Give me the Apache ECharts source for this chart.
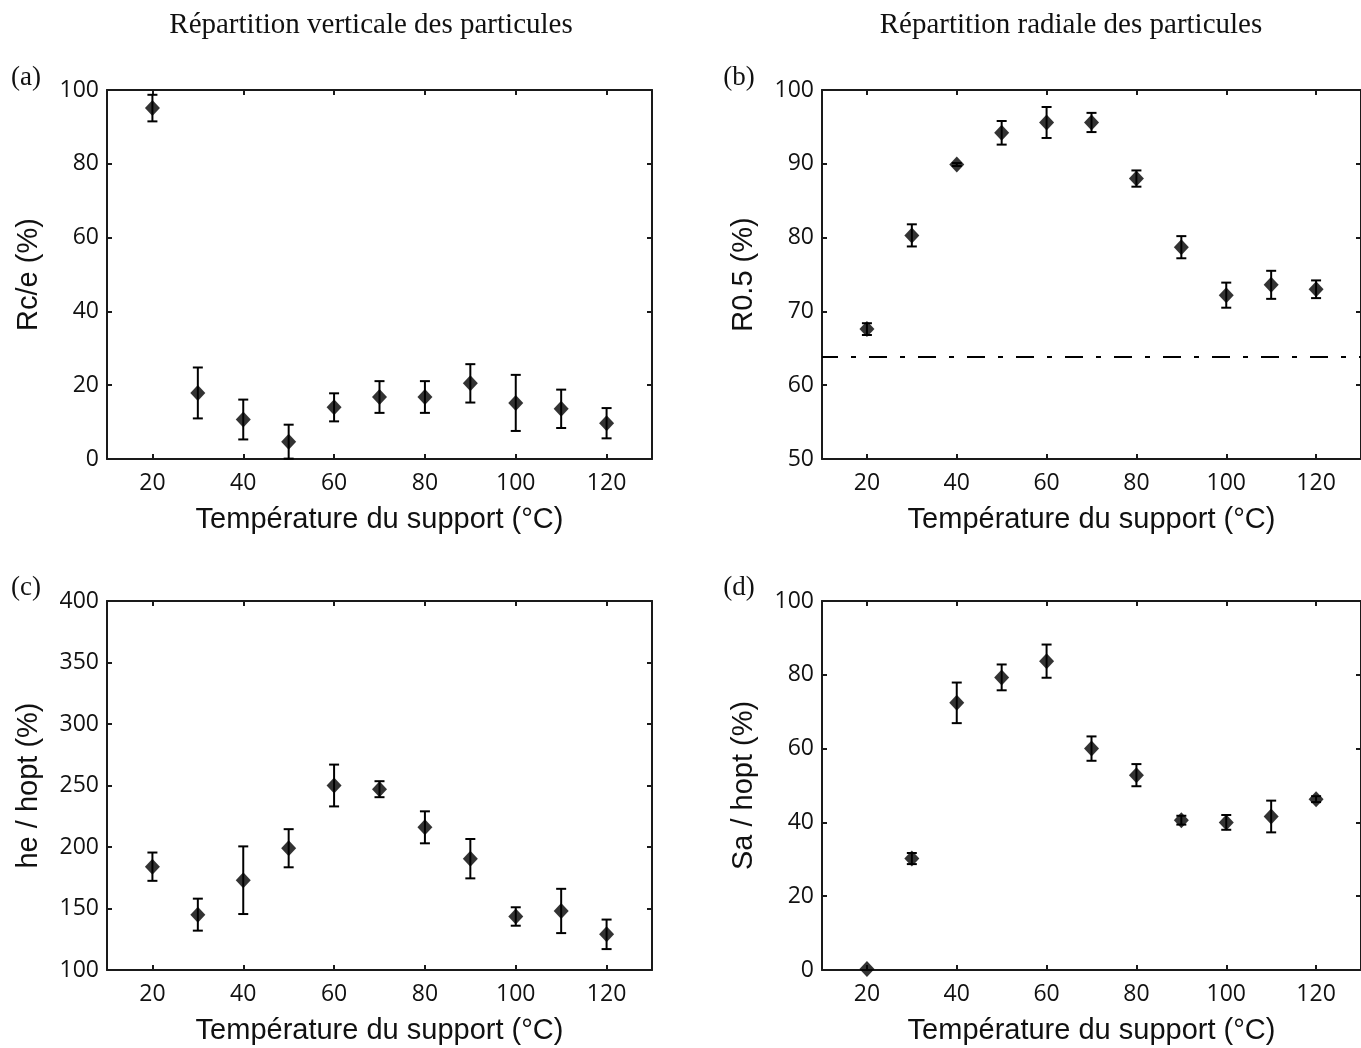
<!DOCTYPE html>
<html>
<head>
<meta charset="utf-8">
<script src="https://cdn.jsdelivr.net/npm/echarts@6/dist/echarts.min.js"></script>
<style>
html,body{margin:0;padding:0;background:#fff;}
#chart{width:1361px;height:1048px;}
</style>
</head>
<body>
<div id="chart"></div>
<script>
// ---- Data ----
const temps = [20, 30, 40, 50, 60, 70, 80, 90, 100, 110, 120];
const xTicks = [20, 40, 60, 80, 100, 120];

// (a) Rc/e (%)
const rce    = [95.1, 17.9, 10.7, 4.7, 14.0, 16.8, 16.8, 20.5, 15.2, 13.6, 9.7];
const rceErr = [3.6, 6.9, 5.4, 4.6, 3.8, 4.3, 4.3, 5.2, 7.6, 5.2, 4.1];

// (b) R0.5 (%)
const r05    = [67.6, 80.3, 89.9, 94.2, 95.6, 95.6, 88.0, 78.7, 72.2, 73.6, 73.0];
const r05Err = [0.8, 1.5, 0.2, 1.6, 2.1, 1.3, 1.1, 1.5, 1.7, 1.9, 1.2];
const r05Threshold = 63.8;

// (c) he / hopt (%)
const heHopt = [184, 145, 173, 199, 250, 247, 216, 190.5, 143.5, 148, 129];
const heErr  = [11.5, 13, 27.5, 15.5, 17, 6.5, 13, 16, 7.5, 18, 12];

// (d) Sa / hopt (%)
const saHopt = [0.3, 30.2, 72.4, 79.3, 83.7, 60.0, 52.8, 40.6, 40.0, 41.6, 46.3];
const saErr  = [0, 1.5, 5.5, 3.5, 4.5, 3.3, 3.0, 1.2, 2.0, 4.3, 0.8];

const columnTitles = ['Répartition verticale des particules', 'Répartition radiale des particules'];
const panelLetters = ['(a)', '(b)', '(c)', '(d)'];
const yNames = ['Rc/e (%)', 'R0.5 (%)', 'he / hopt (%)', 'Sa / hopt (%)'];
const xName = 'Température du support (°C)';
const yRanges = [[0, 100, 20], [50, 100, 10], [100, 400, 50], [0, 100, 20]];

// ---- Layout ----
const grids = [
  {left: 107, top: 90, width: 545, height: 369},
  {left: 822, top: 90, width: 545, height: 369},
  {left: 107, top: 601, width: 545, height: 369},
  {left: 822, top: 601, width: 545, height: 369}
];
const INK = '#000';
const AX = '#1a1a1a';
const tickFont = {fontFamily: '"Open Sans", sans-serif', fontSize: 23, color: '#111'};
const nameFont = {fontFamily: '"Liberation Sans", Arial, sans-serif', fontSize: 29, color: '#111'};

const xAxes = [], yAxes = [];
grids.forEach((g, i) => {
  const axLine = {show: true, onZero: false, lineStyle: {color: AX, width: 2}};
  const tick = {show: true, inside: true, length: 5, lineStyle: {color: AX, width: 2}};
  xAxes.push({
    gridIndex: i, type: 'value', position: 'bottom', min: 10, max: 130,
    axisLine: axLine,
    axisTick: Object.assign({}, tick, {customValues: xTicks}),
    axisLabel: Object.assign({customValues: xTicks, margin: 13}, tickFont),
    splitLine: {show: false},
    name: xName, nameLocation: 'middle', nameGap: 46, nameTextStyle: nameFont
  });
  xAxes.push({
    gridIndex: i, type: 'value', position: 'top', min: 10, max: 130,
    axisLine: axLine,
    axisTick: Object.assign({}, tick, {customValues: xTicks}),
    axisLabel: {show: false, customValues: xTicks},
    splitLine: {show: false}
  });
  const [mn, mx, iv] = yRanges[i];
  yAxes.push({
    gridIndex: i, type: 'value', position: 'left', min: mn, max: mx, interval: iv,
    axisLine: axLine, axisTick: tick,
    axisLabel: Object.assign({margin: 8}, tickFont),
    splitLine: {show: false},
    name: yNames[i], nameLocation: 'middle', nameGap: 64, nameRotate: 90, nameTextStyle: nameFont
  });
  yAxes.push({
    gridIndex: i, type: 'value', position: 'right', min: mn, max: mx, interval: iv,
    axisLine: axLine, axisTick: tick,
    axisLabel: {show: false},
    splitLine: {show: false}
  });
});

function errRender(params, api) {
  const x = api.value(0), lo = api.value(1), hi = api.value(2);
  if (hi - lo <= 0) return null;
  const t = api.coord([x, hi]), b = api.coord([x, lo]);
  const w = 5;
  const st = {stroke: INK, lineWidth: 2};
  return {type: 'group', children: [
    {type: 'line', shape: {x1: t[0], y1: t[1], x2: b[0], y2: b[1]}, style: st},
    {type: 'line', shape: {x1: t[0] - w, y1: t[1], x2: t[0] + w, y2: t[1]}, style: st},
    {type: 'line', shape: {x1: b[0] - w, y1: b[1], x2: b[0] + w, y2: b[1]}, style: st}
  ]};
}

const panels = [[rce, rceErr], [r05, r05Err], [heHopt, heErr], [saHopt, saErr]];
const series = [];
panels.forEach(([vals, errs], i) => {
  series.push({
    type: 'custom', xAxisIndex: 2 * i, yAxisIndex: 2 * i,
    renderItem: errRender, clip: false, silent: true,
    encode: {x: 0, y: [1, 2]},
    data: temps.map((t, k) => [t, vals[k] - errs[k], vals[k] + errs[k]])
  });
  const sc = {
    type: 'scatter', xAxisIndex: 2 * i, yAxisIndex: 2 * i,
    symbol: 'diamond', symbolSize: [15, 16], clip: false, silent: true,
    itemStyle: {color: INK},
    data: temps.map((t, k) => [t, vals[k]])
  };
  if (i === 1) {
    sc.markLine = {
      silent: true, symbol: 'none', label: {show: false},
      lineStyle: {type: [18, 13, 5, 13], dashOffset: 2, color: INK, width: 2},
      data: [{yAxis: r05Threshold}]
    };
  }
  series.push(sc);
});

const serif = '"Liberation Serif", "Times New Roman", serif';
const graphic = [
  {type: 'text', x: 371, y: 25, style: {text: columnTitles[0], font: '29px ' + serif, fill: '#111', align: 'center', verticalAlign: 'middle', textAlign: 'center', textVerticalAlign: 'middle'}},
  {type: 'text', x: 1071, y: 25, style: {text: columnTitles[1], font: '29px ' + serif, fill: '#111', align: 'center', verticalAlign: 'middle', textAlign: 'center', textVerticalAlign: 'middle'}}
];
const letterPos = [[26, 78], [739, 78], [26, 588], [739, 588]];
panelLetters.forEach((l, i) => {
  graphic.push({type: 'text', x: letterPos[i][0], y: letterPos[i][1], style: {text: l, font: '27px ' + serif, fill: '#111', align: 'center', verticalAlign: 'middle', textAlign: 'center', textVerticalAlign: 'middle'}});
});

const chart = echarts.init(document.getElementById('chart'), null, {renderer: 'canvas'});
chart.setOption({
  backgroundColor: '#fff',
  animation: false,
  grid: grids,
  xAxis: xAxes,
  yAxis: yAxes,
  series: series,
  graphic: graphic
});
</script>
</body>
</html>
